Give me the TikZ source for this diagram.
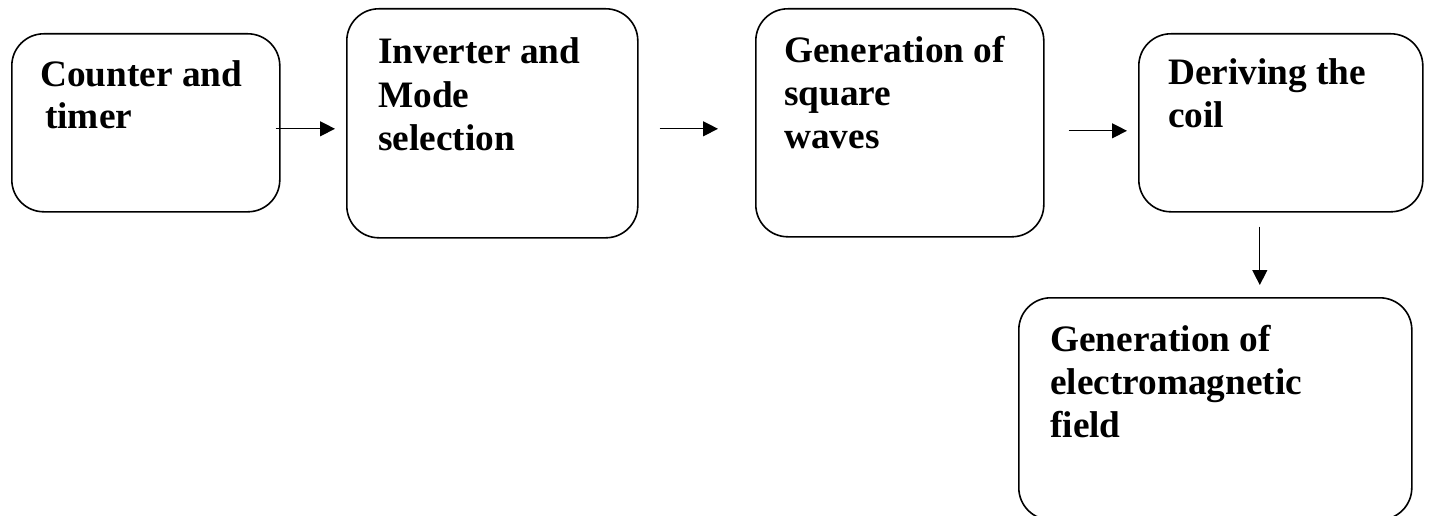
\documentclass[tikz,border=0pt]{standalone}
\usepackage{fontspec}
\setmainfont{Liberation Serif}
\usetikzlibrary{arrows.meta,calc}
\begin{document}
\begin{tikzpicture}[x=1pt,y=1pt,
  box/.style={draw,line width=1.6pt,rounded corners=32pt,anchor=north west,inner sep=0pt},
  lbl/.style={anchor=base west,inner sep=0pt,align=left,font=\fontsize{37.3}{43}\selectfont\bfseries},
  arr/.style={line width=1.3pt,-{Triangle[length=15pt,width=15pt]}}]
\useasboundingbox (0,0) rectangle (1430,-516);
\node[box,minimum width=268pt,minimum height=178pt] (b1) at (11,-33) {};
\node[box,minimum width=291pt,minimum height=229pt] (b2) at (346,-8) {};
\node[box,minimum width=288pt,minimum height=228pt] (b3) at (755,-8) {};
\node[box,minimum width=284pt,minimum height=178pt] (b4) at (1138,-33) {};
\node[box,minimum width=393pt,minimum height=222pt] (b5) at (1018,-297) {};
\node[lbl] (t1) at ($(b1.north west)+(29,-96)$) {Counter and\\\hspace*{5pt}timer};
\node[lbl] (t2) at ($(b2.north west)+(32,-142)$) {Inverter and\\Mode\\selection};
\node[lbl] (t3) at ($(b3.north west)+(29,-141)$) {Generation of\\square\\waves};
\node[lbl] (t4) at ($(b4.north west)+(30,-95)$) {Deriving the\\coil};
\node[lbl] (t5) at ($(b5.north west)+(32,-140)$) {Generation of\\electromagnetic\\field};
\draw[arr] ([xshift=-5pt,yshift=-6pt]b1.east) -- ([xshift=-11pt,yshift=-5.5pt]b2.west);
\draw[arr] ([xshift=21pt,yshift=-5.5pt]b2.east) -- ([xshift=-37pt,yshift=-6pt]b3.west);
\draw[arr] ([xshift=24pt,yshift=-8pt]b3.east) -- ([xshift=-11pt,yshift=-8pt]b4.west);
\draw[arr] ([xshift=-21pt,yshift=-14pt]b4.south) -- ([xshift=44.5pt,yshift=12pt]b5.north);
\end{tikzpicture}
\end{document}
